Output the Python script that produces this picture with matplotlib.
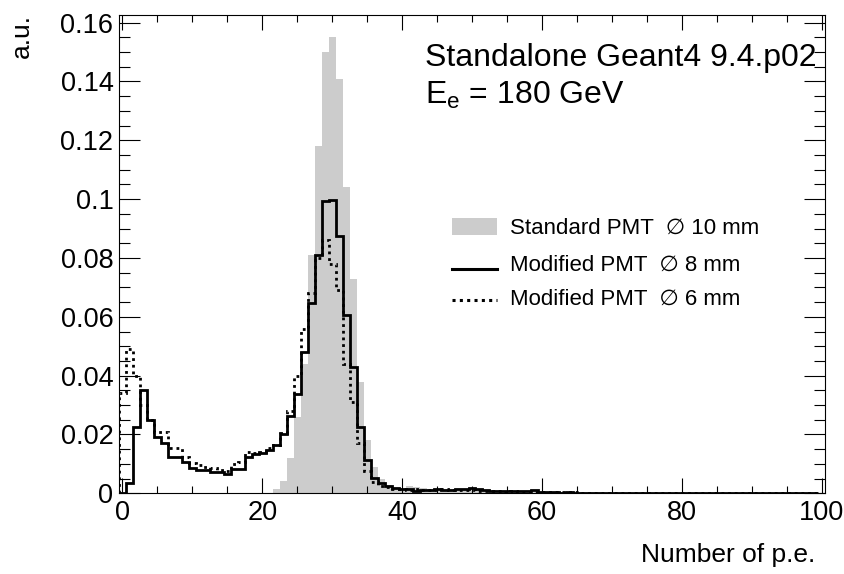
import numpy as np
import matplotlib
matplotlib.use("Agg")
import matplotlib.pyplot as plt
from matplotlib.patches import Rectangle
from matplotlib.lines import Line2D
from matplotlib.ticker import MultipleLocator, FuncFormatter

plt.rcParams['font.family'] = ['Liberation Sans', 'DejaVu Sans']
plt.rcParams['mathtext.fontset'] = 'custom'
plt.rcParams['mathtext.rm'] = 'Liberation Sans'
plt.rcParams['mathtext.it'] = 'Liberation Sans'
plt.rcParams['mathtext.default'] = 'regular'

# histogram bins: one bin per p.e. count, centred on integers 0..99
n_bins = 100
bin_edges = np.arange(n_bins + 1) - 0.5

# Standard PMT, 10 mm (grey fill), bins 0..70
std_10mm = [0, 0, 0, 0, 0, 0, 0, 0, 0, 0,
            0, 0, 0, 0, 0, 0, 0, 0, 0, 0,
            0, 0, 0.0015, 0.0042, 0.012, 0.026, 0.044, 0.081, 0.118, 0.150,
            0.155, 0.141, 0.104, 0.073, 0.038, 0.018, 0.0088, 0.0048, 0.0028, 0.0018,
            0.0017, 0.0025, 0.0020, 0.0018, 0.0016, 0.0015, 0.0014, 0.0016, 0.0013, 0.0012,
            0.0013, 0.0011, 0.0010, 0.0011, 0.0009, 0.0009, 0.0008, 0.0009, 0.0007, 0.0008,
            0.0006, 0.0006, 0.0005, 0.0005, 0.0004, 0.0005, 0.0003, 0.0004, 0.0003, 0.0002,
            0.0001]

# Modified PMT, 8 mm (solid), bins 0..66
mod_8mm = [0, 0.0034, 0.0227, 0.0351, 0.0249, 0.0193, 0.0170, 0.0125, 0.0125, 0.0107,
           0.0085, 0.0079, 0.0079, 0.0073, 0.0073, 0.0066, 0.0082, 0.0082, 0.0125, 0.0133,
           0.0136, 0.0147, 0.0164, 0.0200, 0.0262, 0.0338, 0.0482, 0.0647, 0.0810, 0.0993,
           0.0998, 0.0875, 0.0605, 0.0430, 0.0227, 0.0112, 0.0051, 0.0034, 0.0025, 0.0018,
           0.0016, 0.0014, 0.0009, 0.0012, 0.0011, 0.0013, 0.0012, 0.0011, 0.0016, 0.0015,
           0.0017, 0.0016, 0.0010, 0.0009, 0.0008, 0.0009, 0.0008, 0.0008, 0.0008, 0.0010,
           0.0004, 0.0003, 0.0003, 0.0002, 0.0003, 0.0002, 0.0001]

# Modified PMT, 6 mm (dotted), bins 0..67
mod_6mm = [0.034, 0.049, 0.040, 0.030, 0.025, 0.021, 0.021, 0.0153, 0.0153, 0.0122,
           0.0104, 0.0096, 0.0090, 0.0085, 0.0080, 0.0075, 0.0100, 0.0107, 0.0142, 0.0136,
           0.0142, 0.0153, 0.0164, 0.0205, 0.0280, 0.0400, 0.0560, 0.0680, 0.0800, 0.0860,
           0.0780, 0.0690, 0.0440, 0.0310, 0.0170, 0.0075, 0.0040, 0.0025, 0.0020, 0.0016,
           0.0014, 0.0012, 0.0013, 0.0011, 0.0012, 0.0010, 0.0013, 0.0011, 0.0012, 0.0010,
           0.0011, 0.0009, 0.0008, 0.0007, 0.0008, 0.0006, 0.0007, 0.0005, 0.0006, 0.0005,
           0.0004, 0.0004, 0.0005, 0.0003, 0.0004, 0.0004, 0.0002, 0.0001]

labels = ["Standard PMT  \u2205 10 mm",
          "Modified PMT  \u2205 8 mm",
          "Modified PMT  \u2205 6 mm"]


def padded(vals):
    return np.pad(np.array(vals, dtype=float), (0, n_bins - len(vals)))


grey = "#cccccc"

fig = plt.figure(figsize=(8.45, 5.74), dpi=100)
ax = fig.add_axes([119 / 845, 1 - 493.3 / 574, 706 / 845, 478.6 / 574])

ax.stairs(padded(std_10mm), bin_edges, fill=True, color=grey, linewidth=0)
ax.stairs(padded(mod_8mm), bin_edges, color="black", linewidth=2.0)
ax.stairs(padded(mod_6mm), bin_edges, color="black", linewidth=2.0,
          linestyle=(0, (1, 1.4)))

ax.set_xlim(-0.5, 100.5)
ax.set_ylim(0, 0.1627)

ax.xaxis.set_major_locator(MultipleLocator(20))
ax.xaxis.set_minor_locator(MultipleLocator(5))
ax.yaxis.set_major_locator(MultipleLocator(0.02))
ax.yaxis.set_minor_locator(MultipleLocator(0.005))
ax.yaxis.set_major_formatter(FuncFormatter(lambda v, p: "0" if abs(v) < 1e-9 else "%g" % v))

ax.tick_params(which="both", direction="in", top=True, right=True,
               width=0.8, labelsize=19.5, colors="black")
ax.tick_params(axis="x", which="major", length=11, pad=5)
ax.tick_params(axis="x", which="minor", length=5)
ax.tick_params(axis="y", which="major", length=15, pad=4)
ax.tick_params(axis="y", which="minor", length=8)
for sp in ax.spines.values():
    sp.set_linewidth(0.8)

fig.text(22 / 845, 1 - 14 / 574, "a.u.", rotation=90, ha="center", va="top", fontsize=19)
fig.text(815 / 845, 1 - 555 / 574, "Number of p.e.", ha="right", va="center", fontsize=19)

# text block
ax.text(0.4334, 0.9095, "Standalone Geant4 9.4.p02", transform=ax.transAxes,
        ha="left", va="center", fontsize=23)
ax.text(0.4334, 0.832, "$E_e$ = 180 GeV", transform=ax.transAxes,
        ha="left", va="center", fontsize=23)

# legend, drawn by hand like the ROOT TLegend
ax.add_patch(Rectangle((0.4717, 0.5397), 0.0637, 0.0355, transform=ax.transAxes,
                       facecolor=grey, edgecolor="none"))
ax.add_line(Line2D([0.4717, 0.5354], [0.4687, 0.4687], transform=ax.transAxes,
                   color="black", linewidth=2.2))
ax.add_line(Line2D([0.4717, 0.5354], [0.4040, 0.4040], transform=ax.transAxes,
                   color="black", linewidth=2.2, linestyle=(0, (1, 1.4))))
for ypos, lab in zip([0.5543, 0.4770, 0.4060], labels):
    ax.text(0.5538, ypos, lab, transform=ax.transAxes, ha="left", va="center",
            fontsize=16)

fig.savefig("out.png", dpi=100)
